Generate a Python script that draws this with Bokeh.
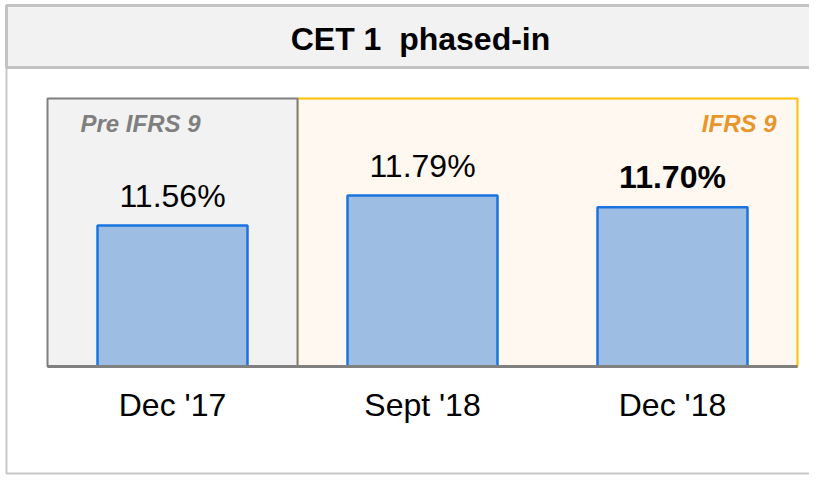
from bokeh.plotting import figure
from bokeh.models import ColumnDataSource, Range1d
from bokeh.core.properties import value
from bokeh.embed import file_html
from bokeh.resources import INLINE

# ---- data ----
categories = ["Dec '17", "Sept '18", "Dec '18"]
cet1 = [11.56, 11.79, 11.70]
value_labels = ["11.56%", "11.79%", "11.70%"]
label_weight = ["normal", "normal", "bold"]
regimes = ["Pre IFRS 9", "IFRS 9"]
regime_first = ["Dec '17", "Sept '18"]
regime_last = ["Dec '17", "Dec '18"]
title_text = "CET 1 \u00a0phased-in"

# ---- layout (pixel constants) ----
W, H = 809, 475
SLOT = 250.0            # px per category slot
X0_PX = 47              # left edge of first slot
BASE_PX = 366           # baseline row
BOX_TOP_PX = 98
Y0 = 10.479             # value at baseline
PX = 130.4              # px per percentage point


def dx(px):
    return (px - X0_PX) / SLOT


def dy(py):
    return Y0 + (BASE_PX - py) / PX


FONT = "Liberation Sans"

p = figure(
    x_range=Range1d(dx(0), dx(W)),
    y_range=Range1d(dy(H), dy(0)),
    width=W, height=H, min_border=0,
    x_axis_location=None, y_axis_location=None,
    output_backend="svg", toolbar_location=None,
)
p.grid.visible = False
p.outline_line_color = None
p.background_fill_color = "white"
p.border_fill_color = "white"

# outer frame and title band
p.quad(left=[dx(6)], right=[dx(840)], top=[dy(5)], bottom=[dy(473)],
       fill_alpha=0, line_color="#c8c8c8", line_width=2)
p.quad(left=[dx(6)], right=[dx(840)], top=[dy(5)], bottom=[dy(67)],
       fill_color="#f2f2f2", line_color="#c3c3c3", line_width=3)
p.text(x=[dx(420)], y=[dy(38.5)], text=[title_text],
       text_align="center", text_baseline="middle",
       text_font=value(FONT), text_font_size="32px", text_font_style="bold",
       text_color="black")

# category positions through the numeric scale
xpos = [i + 0.5 for i, _ in enumerate(categories)]

# regime boxes
reg_left = [categories.index(c) for c in regime_first]
reg_right = [categories.index(c) + 1 for c in regime_last]
p.quad(left=[reg_left[1]], right=[reg_right[1]], bottom=[Y0], top=[dy(BOX_TOP_PX)],
       fill_color="#fff8f0", line_color="#ffc000", line_width=2)
p.quad(left=[reg_left[0]], right=[reg_right[0]], bottom=[Y0], top=[dy(BOX_TOP_PX)],
       fill_color="#f2f2f2", line_color="#7f7f7f", line_width=2)

# regime labels
p.text(x=[reg_left[0]], y=[dy(123)], text=[regimes[0]], x_offset=33,
       text_align="left", text_baseline="middle",
       text_font=value(FONT), text_font_size="24px", text_font_style="bold italic",
       text_color="#7f7f7f")
p.text(x=[reg_right[1]], y=[dy(123)], text=[regimes[1]], x_offset=-21,
       text_align="right", text_baseline="middle",
       text_font=value(FONT), text_font_size="24px", text_font_style="bold italic",
       text_color="#e8952a")

# bars
src = ColumnDataSource(dict(x=xpos, cat=categories, val=cet1, lab=value_labels, wt=label_weight))
p.vbar(x="x", top="val", bottom=Y0, width=0.6, source=src,
       fill_color="#9dbde3", line_color="#1a74e0", line_width=2.5)

# baseline
p.segment(x0=[0], x1=[len(categories)], y0=[Y0], y1=[Y0],
          line_color="#808080", line_width=3, line_cap="butt")

# value labels
p.text(x="x", y="val", text="lab", source=src, y_offset=-30,
       text_align="center", text_baseline="middle",
       text_font=value(FONT), text_font_size="32px", text_font_style="wt",
       text_color="black")

# category labels
p.text(x="x", y=Y0, text="cat", source=src, y_offset=38,
       text_align="center", text_baseline="middle",
       text_font=value(FONT), text_font_size="32px", text_color="black")

open("out.html", "w").write(file_html(p, INLINE))
